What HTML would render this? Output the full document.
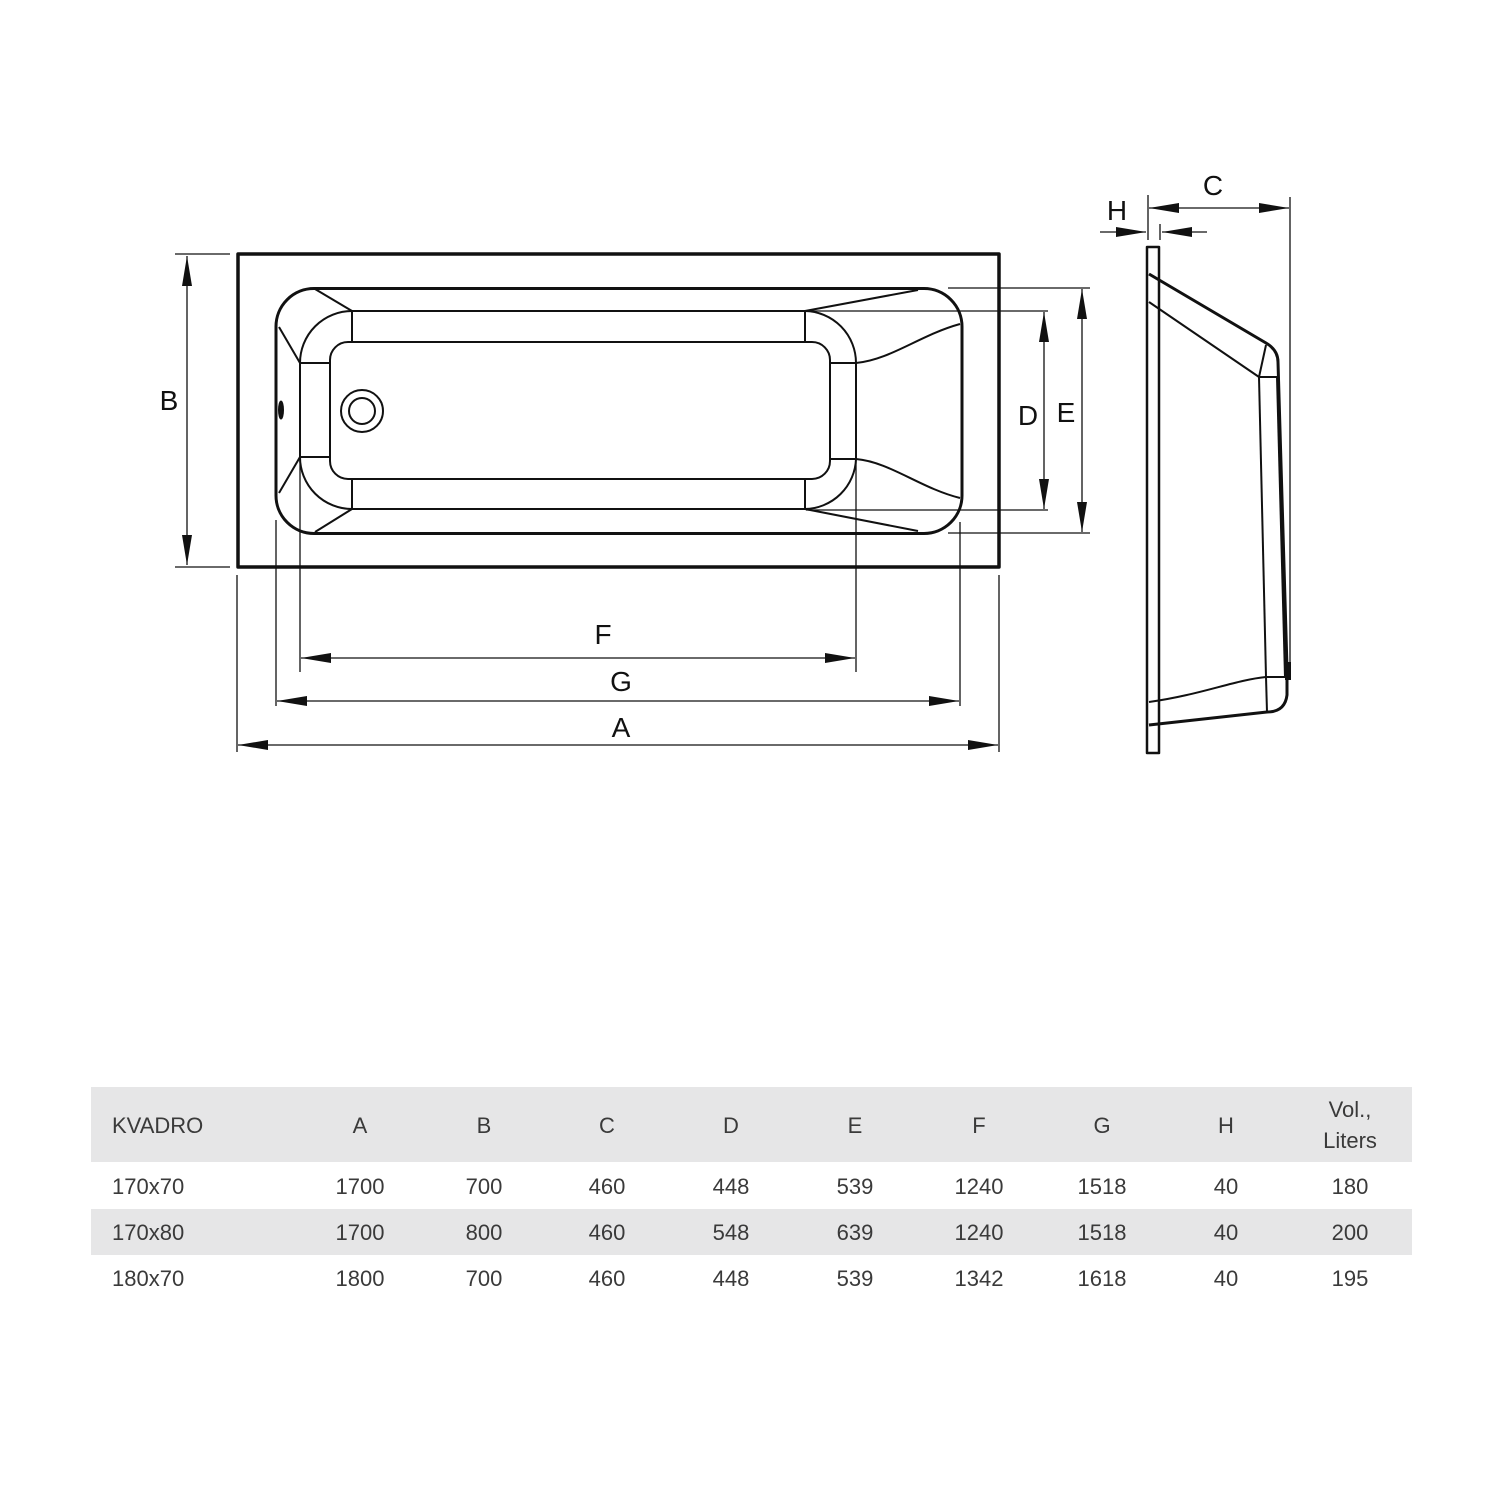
<!DOCTYPE html>
<html><head><style>
html,body{margin:0;padding:0;background:#fff;}
svg{display:block;}
</style></head><body>
<svg width="1500" height="1500" viewBox="0 0 1500 1500" xmlns="http://www.w3.org/2000/svg" font-family="Liberation Sans, sans-serif">
<defs>
<marker id="ah" viewBox="0 0 30 10" refX="30" refY="5" markerWidth="30" markerHeight="10" markerUnits="userSpaceOnUse" orient="auto-start-reverse">
<path d="M0,0 L30,5 L0,10 Z" fill="#111"/>
</marker>
</defs>
<g fill="none" stroke="#111" stroke-linejoin="round">
<!-- outer top view -->
<rect x="238" y="254" width="761" height="313" stroke-width="3.5"/>
<rect x="276" y="288.5" width="686" height="245" rx="38" stroke-width="3"/>
<!-- pit -->
<rect x="330" y="342" width="500" height="137" rx="18" stroke-width="2"/>
<g stroke-width="2">
<line x1="352" y1="311" x2="805" y2="311"/>
<line x1="352" y1="509" x2="805" y2="509"/>
<line x1="352" y1="311" x2="352" y2="342"/>
<line x1="352" y1="479" x2="352" y2="509"/>
<line x1="805" y1="311" x2="805" y2="342"/>
<line x1="805" y1="479" x2="805" y2="509"/>
<path d="M352,311 A52,52 0 0 0 300,363"/>
<path d="M300,457 A52,52 0 0 0 352,509"/>
<line x1="300" y1="363" x2="330" y2="363"/>
<line x1="300" y1="457" x2="330" y2="457"/>
<line x1="300" y1="363" x2="300" y2="457"/>
<path d="M315,289 L352,311"/>
<path d="M315,532 L352,509"/>
<path d="M279,327 L300,363"/>
<path d="M279,493 L300,457"/>
<path d="M805,311 A52,52 0 0 1 856,363"/>
<path d="M856,459 A52,52 0 0 1 805,509"/>
<line x1="830" y1="363" x2="856" y2="363"/>
<line x1="830" y1="459" x2="856" y2="459"/>
<line x1="856" y1="363" x2="856" y2="459"/>
<path d="M805,311 L918,290"/>
<path d="M805,509 L918,531"/>
<path d="M856,363 C890,360 920,335 960,324"/>
<path d="M856,459 C890,462 920,488 960,498"/>
<circle cx="362" cy="411" r="21"/>
<circle cx="362" cy="411" r="13"/>
</g>
<ellipse cx="281" cy="410" rx="2.5" ry="9" fill="#111"/>
<!-- dimension lines -->
<g stroke-width="1.3">
<line x1="175" y1="254" x2="230" y2="254"/>
<line x1="175" y1="567" x2="230" y2="567"/>
<line x1="187" y1="256" x2="187" y2="565" marker-start="url(#ah)" marker-end="url(#ah)"/>
<line x1="806" y1="311" x2="1048" y2="311"/>
<line x1="806" y1="510" x2="1048" y2="510"/>
<line x1="1044" y1="312" x2="1044" y2="509" marker-start="url(#ah)" marker-end="url(#ah)"/>
<line x1="948" y1="288" x2="1090" y2="288"/>
<line x1="948" y1="533" x2="1090" y2="533"/>
<line x1="1082" y1="289" x2="1082" y2="532" marker-start="url(#ah)" marker-end="url(#ah)"/>
<line x1="300" y1="457" x2="300" y2="672"/>
<line x1="856" y1="459" x2="856" y2="672"/>
<line x1="276" y1="520" x2="276" y2="706"/>
<line x1="960" y1="522" x2="960" y2="706"/>
<line x1="237" y1="575" x2="237" y2="752"/>
<line x1="999" y1="575" x2="999" y2="752"/>
<line x1="301" y1="658" x2="855" y2="658" marker-start="url(#ah)" marker-end="url(#ah)"/>
<line x1="277" y1="701" x2="959" y2="701" marker-start="url(#ah)" marker-end="url(#ah)"/>
<line x1="238" y1="745" x2="998" y2="745" marker-start="url(#ah)" marker-end="url(#ah)"/>
<!-- side view dims -->
<line x1="1148" y1="195" x2="1148" y2="240"/>
<line x1="1160" y1="224" x2="1160" y2="240"/>
<line x1="1290" y1="197" x2="1290" y2="665"/>
<line x1="1149" y1="208" x2="1289" y2="208" marker-start="url(#ah)" marker-end="url(#ah)"/>
<line x1="1100" y1="232" x2="1146" y2="232" marker-end="url(#ah)"/>
<line x1="1207" y1="232" x2="1162" y2="232" marker-end="url(#ah)"/>
</g>
<!-- side view -->
<rect x="1147" y="247" width="12" height="506" stroke-width="2.5"/>
<path d="M1149,274 L1266,343 Q1278,350 1278,362 L1287,668 L1287,695 Q1285,712 1267,712 L1149,725" stroke-width="3"/>
<g stroke-width="2">
<path d="M1149,302 L1259,377 L1277,377"/>
<path d="M1259,377 L1266,345"/>
<path d="M1259,377 L1266,677"/>
<path d="M1277,377 L1285,677"/>
<path d="M1149,702 C1200,695 1235,680 1266,677 L1286,677"/>
<path d="M1266,677 L1267,712"/>
</g>
<rect x="1285" y="662" width="6" height="18" fill="#111" stroke="none"/>
</g>
<g fill="#111" font-size="28" text-anchor="middle">
<text x="169" y="410">B</text>
<text x="1028" y="425">D</text>
<text x="1066" y="422">E</text>
<text x="603" y="644">F</text>
<text x="621" y="691">G</text>
<text x="621" y="737">A</text>
<text x="1213" y="195">C</text>
<text x="1117" y="220">H</text>
</g>
<!-- table -->
<rect x="91" y="1087" width="1321" height="75" fill="#e6e6e7"/>
<rect x="91" y="1209" width="1321" height="46" fill="#e6e6e7"/>
<g fill="#3a3a3a" font-size="22" text-anchor="middle">
<text x="112" y="1133" text-anchor="start">KVADRO</text>
<text x="360" y="1133">A</text><text x="484" y="1133">B</text><text x="607" y="1133">C</text>
<text x="731" y="1133">D</text><text x="855" y="1133">E</text><text x="979" y="1133">F</text>
<text x="1102" y="1133">G</text><text x="1226" y="1133">H</text>
<text x="1350" y="1117">Vol.,</text><text x="1350" y="1148">Liters</text>
<text x="112" y="1194" text-anchor="start">170x70</text>
<text x="360" y="1194">1700</text><text x="484" y="1194">700</text><text x="607" y="1194">460</text>
<text x="731" y="1194">448</text><text x="855" y="1194">539</text><text x="979" y="1194">1240</text>
<text x="1102" y="1194">1518</text><text x="1226" y="1194">40</text><text x="1350" y="1194">180</text>
<text x="112" y="1240" text-anchor="start">170x80</text>
<text x="360" y="1240">1700</text><text x="484" y="1240">800</text><text x="607" y="1240">460</text>
<text x="731" y="1240">548</text><text x="855" y="1240">639</text><text x="979" y="1240">1240</text>
<text x="1102" y="1240">1518</text><text x="1226" y="1240">40</text><text x="1350" y="1240">200</text>
<text x="112" y="1286" text-anchor="start">180x70</text>
<text x="360" y="1286">1800</text><text x="484" y="1286">700</text><text x="607" y="1286">460</text>
<text x="731" y="1286">448</text><text x="855" y="1286">539</text><text x="979" y="1286">1342</text>
<text x="1102" y="1286">1618</text><text x="1226" y="1286">40</text><text x="1350" y="1286">195</text>
</g>
</svg>
</body></html>
